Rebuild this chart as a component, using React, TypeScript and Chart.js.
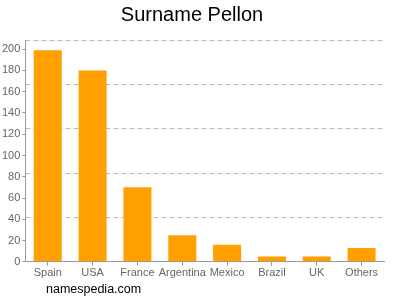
import React, { useEffect, useRef } from "react";
import { Chart, registerables } from "chart.js";

Chart.register(...registerables);

const categories = ["Spain", "USA", "France", "Argentina", "Mexico", "Brazil", "UK", "Others"];
const counts = [199, 180, 70, 25, 16, 5, 5, 13];
const axisMax = 208.6;
const tickStep = 20;
const titleText = "Surname Pellon";
const footerText = "namespedia.com";

const footerPlugin = {
  id: "footerText",
  afterDraw(chart: any) {
    const ctx = chart.ctx;
    ctx.save();
    ctx.fillStyle = "#000";
    ctx.font = "12.5px 'Liberation Sans', Arial, sans-serif";
    ctx.textBaseline = "middle";
    ctx.textAlign = "left";
    ctx.fillText(footerText, 46, 290);
    ctx.restore();
  },
};

export default function App() {
  const ref = useRef<HTMLCanvasElement>(null);
  useEffect(() => {
    if (!ref.current) return;
    const font = "'Liberation Sans', Arial, sans-serif";
    const chart = new Chart(ref.current, {
      type: "bar",
      data: {
        labels: categories,
        datasets: [
          {
            data: counts,
            backgroundColor: "#FFA000",
            barPercentage: 1,
            categoryPercentage: 0.625,
            yAxisID: "y",
          },
        ],
      },
      options: {
        responsive: false,
        animation: false,
        layout: { padding: { left: 0, right: 16, top: 0, bottom: 19 } },
        plugins: {
          legend: { display: false },
          tooltip: { enabled: false },
          title: {
            display: true,
            text: titleText,
            color: "#000",
            font: { family: font, size: 20, weight: "normal" },
            padding: { top: 3, bottom: 13 },
          },
        },
        scales: {
          x: {
            grid: { display: true, drawOnChartArea: false, offset: false, tickLength: 4, color: "#999" },
            border: { color: "#999" },
            ticks: { color: "#666", font: { family: font, size: 11 }, padding: 1, maxRotation: 0, autoSkip: false },
          },
          y: {
            position: "left",
            min: 0,
            max: axisMax,
            grid: { drawOnChartArea: false, tickLength: 3, color: "#999" },
            border: { color: "#999" },
            ticks: { stepSize: tickStep, includeBounds: false, color: "#666", font: { family: font, size: 11 }, padding: 2 },
          },
          y2: {
            position: "right",
            min: 0,
            max: axisMax,
            grid: { drawOnChartArea: true, drawTicks: false, tickLength: 0, color: "#bbb", lineWidth: 1 },
            border: { display: false, dash: [5, 3] },
            ticks: { display: false, count: 6 },
          },
        },
      },
      plugins: [footerPlugin],
    } as any);
    return () => chart.destroy();
  }, []);
  return (
    <div style={{ position: "fixed", left: 0, top: 0, width: 400, height: 300, background: "#fff" }}>
      <canvas ref={ref} width={400} height={300} />
    </div>
  );
}
